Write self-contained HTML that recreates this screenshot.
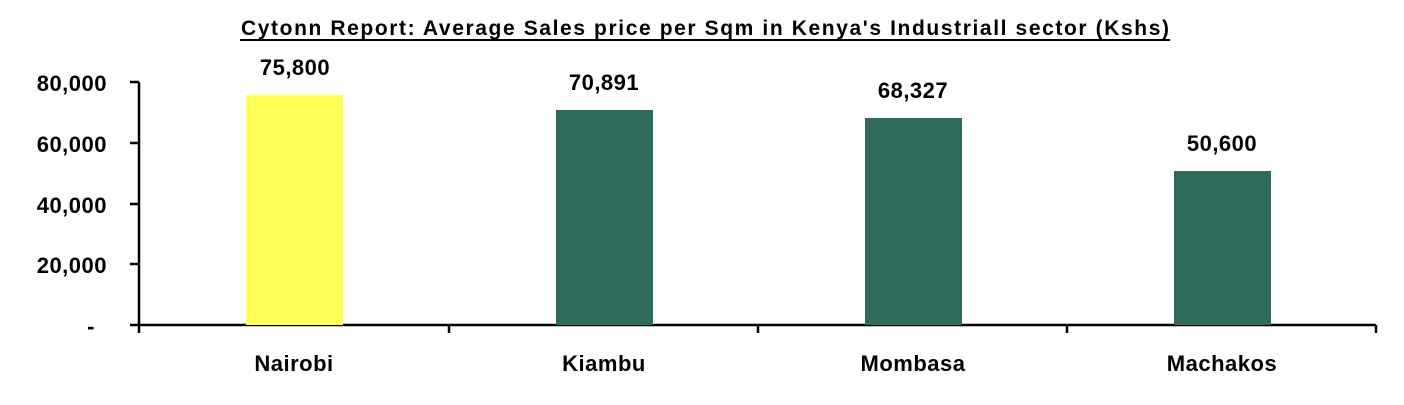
<!DOCTYPE html>
<html><head><meta charset="utf-8"><style>
html,body{margin:0;padding:0;background:#fff;}
svg text{font-family:"Liberation Sans",sans-serif;font-weight:bold;fill:#000;}
</style></head><body>
<svg width="1404" height="400" xmlns="http://www.w3.org/2000/svg">
<text x="705" y="35" font-size="21" text-anchor="middle" textLength="928" lengthAdjust="spacing">Cytonn Report: Average Sales price per Sqm in Kenya's Industriall sector (Kshs)</text>
<line x1="240" y1="40" x2="1170" y2="40" stroke="#000" stroke-width="2"/>
<g stroke="#000" stroke-width="2.5">
<line x1="139" y1="82" x2="139" y2="333"/>
<line x1="130" y1="325" x2="1376" y2="325"/>
<line x1="130" y1="82" x2="139" y2="82"/>
<line x1="130" y1="143" x2="139" y2="143"/>
<line x1="130" y1="204" x2="139" y2="204"/>
<line x1="130" y1="264" x2="139" y2="264"/>
<line x1="449" y1="325" x2="449" y2="333"/>
<line x1="758" y1="325" x2="758" y2="333"/>
<line x1="1067" y1="325" x2="1067" y2="333"/>
<line x1="1376" y1="325" x2="1376" y2="333"/>
</g>
<g font-size="22" text-anchor="end" letter-spacing="0.5">
<text x="107" y="91">80,000</text>
<text x="107" y="152">60,000</text>
<text x="107" y="213">40,000</text>
<text x="107" y="273">20,000</text>
<text x="95" y="334">-</text>
</g>
<rect x="246" y="95" width="97" height="230" fill="#ffff55"/>
<rect x="556" y="110" width="97" height="215" fill="#2e6b5c"/>
<rect x="865" y="118" width="97" height="207" fill="#2e6b5c"/>
<rect x="1174" y="171" width="97" height="154" fill="#2e6b5c"/>
<g font-size="22" text-anchor="middle" letter-spacing="0.5">
<text x="295" y="75">75,800</text>
<text x="604" y="90">70,891</text>
<text x="913" y="98">68,327</text>
<text x="1222" y="151">50,600</text>
<text x="294" y="371">Nairobi</text>
<text x="604" y="371">Kiambu</text>
<text x="913" y="371">Mombasa</text>
<text x="1222" y="371">Machakos</text>
</g>
</svg>
</body></html>
